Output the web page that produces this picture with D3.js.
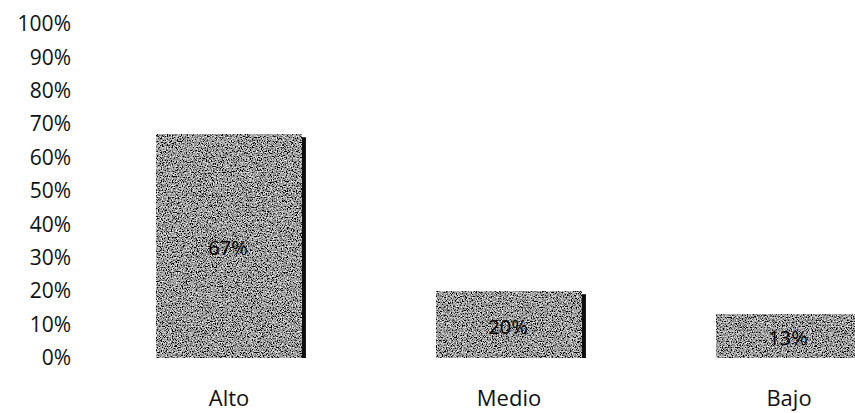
<!DOCTYPE html>
<html>
<head>
<meta charset="utf-8">
<script src="https://cdn.jsdelivr.net/npm/d3@7"></script>
<style>
  html, body { margin: 0; padding: 0; background: #fff; }
  svg { display: block; }
  text { font-family: "Open Sans", "Noto Sans", sans-serif; }
</style>
</head>
<body>
<svg id="chart" width="855" height="413"></svg>
<script>
// Nivel de resultado por categoría
const categories = ["Alto", "Medio", "Bajo"];
const values = [0.67, 0.20, 0.13];
const tickValues = [0, 0.1, 0.2, 0.3, 0.4, 0.5, 0.6, 0.7, 0.8, 0.9, 1.0];

const svg = d3.select("#chart");
const pct = d3.format(".0%");

const y = d3.scaleLinear().domain([0, 1]).range([358, 24]);
// band centres fall at 229, 509 and 789
const x = d3.scaleBand().domain(categories).range([89, 929]).paddingInner(0.479).paddingOuter(0.2395);

// grainy halftone fill for the bars
const defs = svg.append("defs");
const f = defs.append("filter").attr("id", "grain")
  .attr("x", 0).attr("y", 0).attr("width", 1).attr("height", 1)
  .attr("filterUnits", "objectBoundingBox");
f.append("feTurbulence").attr("type", "fractalNoise").attr("baseFrequency", 0.8)
  .attr("numOctaves", 3).attr("seed", 7).attr("result", "noise");
f.append("feColorMatrix").attr("in", "noise").attr("type", "matrix")
  .attr("values", "2.1 0 0 0 -0.72  2.1 0 0 0 -0.72  2.1 0 0 0 -0.72  0 0 0 0 1");

// y axis labels
const yAxis = d3.axisLeft(y).tickValues(tickValues).tickFormat(pct).tickSize(0).tickPadding(0);
const gy = svg.append("g").attr("transform", "translate(71,0)").call(yAxis);
gy.select(".domain").remove();
gy.selectAll("text").attr("font-size", 21).attr("fill", "#111")
  .style("font-family", '"Open Sans", "Noto Sans", sans-serif');

// bars
const bars = svg.append("g").selectAll("g.bar").data(categories).join("g").attr("class", "bar");
bars.append("rect")
  .attr("x", d => x(d)).attr("y", (d, i) => y(values[i]))
  .attr("width", x.bandwidth()).attr("height", (d, i) => y(0) - y(values[i]))
  .attr("fill", "#999").attr("filter", "url(#grain)");
// dark right edge
bars.append("rect")
  .attr("x", d => x(d) + x.bandwidth()).attr("y", (d, i) => y(values[i]) + 3)
  .attr("width", 4).attr("height", (d, i) => y(0) - y(values[i]) - 3)
  .attr("fill", "#0d0d0d");

// value labels
bars.append("text")
  .attr("x", d => x(d) + x.bandwidth() / 2 - 1)
  .attr("y", (d, i) => (y(values[i]) + y(0)) / 2 + 2)
  .attr("dy", "0.35em").attr("text-anchor", "middle")
  .attr("font-size", 20).attr("fill", "#000")
  .text((d, i) => pct(values[i]));

// category labels
const xAxis = d3.axisBottom(x).tickSize(0).tickPadding(0);
const gx = svg.append("g").attr("transform", "translate(0,406)").call(xAxis);
gx.select(".domain").remove();
gx.selectAll("text").attr("font-size", 22).attr("fill", "#111").attr("dy", 0)
  .style("font-family", '"Open Sans", "Noto Sans", sans-serif');
</script>
</body>
</html>
